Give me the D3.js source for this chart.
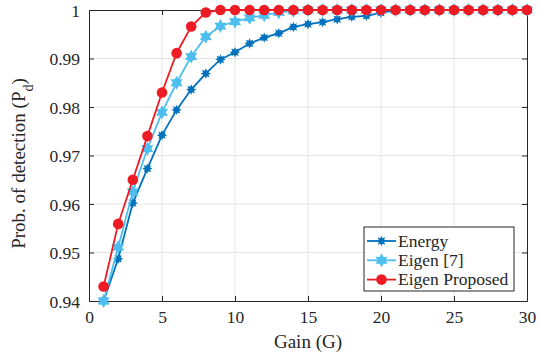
<!DOCTYPE html>
<html>
<head>
<meta charset="utf-8">
<script src="https://cdn.jsdelivr.net/npm/d3@7"></script>
<style>
  html, body { margin: 0; padding: 0; background: #fff; }
  svg { display: block; }
  svg text { font-family: "Liberation Serif", "Times New Roman", serif; }
</style>
</head>
<body>
<div id="chart"></div>
<script>
// gain values (x) and the three detection curves
const gain = [1, 2, 3, 4, 5, 6, 7, 8, 9, 10, 11, 12, 13, 14, 15, 16, 17, 18, 19, 20, 21, 22, 23, 24, 25, 26, 27, 28, 29, 30];
const energy = [0.9400, 0.9487, 0.9602, 0.9673, 0.9742, 0.9794, 0.9836, 0.9869, 0.9898, 0.9913,
  0.9931, 0.9943, 0.9952, 0.9965, 0.9971, 0.9975, 0.9981, 0.9986, 0.9988, 0.9994,
  1, 1, 1, 1, 1, 1, 1, 1, 1, 1];
const eigen7 = [0.9400, 0.9511, 0.9625, 0.9714, 0.9789, 0.9850, 0.9904, 0.9945, 0.9967, 0.9976,
  0.9984, 0.9989, 0.9995, 0.9998, 1, 1, 1, 1, 1, 1,
  1, 1, 1, 1, 1, 1, 1, 1, 1, 1];
const proposed = [0.9430, 0.9559, 0.9650, 0.9740, 0.9830, 0.9911, 0.9966, 0.9995, 1, 1,
  1, 1, 1, 1, 1, 1, 1, 1, 1, 1,
  1, 1, 1, 1, 1, 1, 1, 1, 1, 1];

const xTicks = [0, 5, 10, 15, 20, 25, 30];
const yTicks = [0.94, 0.95, 0.96, 0.97, 0.98, 0.99, 1];
const seriesNames = ["Energy", "Eigen [7]", "Eigen Proposed"];

const W = 541, H = 358;
const margin = { top: 10, right: 14, bottom: 57, left: 89 };
const iw = W - margin.left - margin.right;
const ih = H - margin.top - margin.bottom;
const axisCol = "#262626";

const svg = d3.select("#chart").append("svg").attr("width", W).attr("height", H);
const g = svg.append("g").attr("transform", `translate(${margin.left},${margin.top})`);

const x = d3.scaleLinear().domain([0, 30]).range([0, iw]);
const y = d3.scaleLinear().domain([0.94, 1]).range([ih, 0]);

// star shaped marker path (n points)
function starPath(n, ro, ri) {
  const pts = [];
  for (let i = 0; i < 2 * n; i++) {
    const a = -Math.PI / 2 + i * Math.PI / n;
    const r = i % 2 === 0 ? ro : ri;
    pts.push([r * Math.cos(a), r * Math.sin(a)]);
  }
  return "M" + pts.map((p) => p[0].toFixed(2) + "," + p[1].toFixed(2)).join("L") + "Z";
}

// grid
g.append("g").selectAll("line").data(xTicks.slice(1, -1)).join("line")
  .attr("x1", (d) => x(d)).attr("x2", (d) => x(d)).attr("y1", 0).attr("y2", ih)
  .attr("stroke", "#e3e3e3").attr("stroke-width", 1);
g.append("g").selectAll("line").data(yTicks.slice(1, -1)).join("line")
  .attr("x1", 0).attr("x2", iw).attr("y1", (d) => y(d)).attr("y2", (d) => y(d))
  .attr("stroke", "#e3e3e3").attr("stroke-width", 1);

// axes (MATLAB style: ticks inward, box on)
const fmtY = (d) => (d === 1 ? "1" : d3.format(".2f")(d));
const xAxis = g.append("g").attr("transform", `translate(0,${ih})`)
  .call(d3.axisBottom(x).tickValues(xTicks).tickSizeInner(-5).tickSizeOuter(0).tickPadding(10));
const yAxis = g.append("g")
  .call(d3.axisLeft(y).tickValues(yTicks).tickFormat(fmtY).tickSizeInner(-5).tickSizeOuter(0).tickPadding(9));
const xTop = g.append("g")
  .call(d3.axisTop(x).tickValues(xTicks).tickSizeInner(-5).tickSizeOuter(0).tickFormat(""));
const yRight = g.append("g").attr("transform", `translate(${iw},0)`)
  .call(d3.axisRight(y).tickValues(yTicks).tickSizeInner(-5).tickSizeOuter(0).tickFormat(""));
[xAxis, yAxis, xTop, yRight].forEach((a) => {
  a.attr("font-family", null).attr("font-size", null);
  a.select(".domain").attr("stroke", axisCol).attr("stroke-width", 1);
  a.selectAll(".tick line").attr("stroke", axisCol);
  a.selectAll(".tick text").attr("fill", axisCol).style("font-size", "17.5px");
});
yAxis.selectAll(".tick text").attr("dy", "0.36em");

// axis labels
g.append("text").attr("x", iw / 2).attr("y", ih + 47)
  .attr("text-anchor", "middle").attr("fill", axisCol).style("font-size", "19px")
  .text("Gain (G)");
const yl = g.append("text")
  .attr("transform", `translate(-64,${ih / 2 + 8}) rotate(-90)`)
  .attr("text-anchor", "middle").attr("fill", axisCol).style("font-size", "19px");
yl.append("tspan").text("Prob. of detection (P");
yl.append("tspan").attr("baseline-shift", "sub").style("font-size", "14px").text("d");
yl.append("tspan").text(")");

const series = [
  { name: seriesNames[0], values: energy, color: "#0072BD", marker: starPath(8, 5.2, 2.9) },
  { name: seriesNames[1], values: eigen7, color: "#4DBEEE", marker: starPath(6, 7, 3.9) },
  { name: seriesNames[2], values: proposed, color: "#ED1C24", marker: null },
];

const line = d3.line().x((d) => x(d[0])).y((d) => y(d[1]));

series.forEach((s) => {
  const pts = gain.map((gv, i) => [gv, s.values[i]]);
  g.append("path").datum(pts).attr("d", line)
    .attr("fill", "none").attr("stroke", s.color).attr("stroke-width", 1.8);
  const mk = g.append("g");
  if (s.marker) {
    mk.selectAll("path").data(pts).join("path")
      .attr("transform", (d) => `translate(${x(d[0])},${y(d[1])})`)
      .attr("d", s.marker).attr("fill", s.color);
  } else {
    mk.selectAll("circle").data(pts).join("circle")
      .attr("cx", (d) => x(d[0])).attr("cy", (d) => y(d[1])).attr("r", 5.3)
      .attr("fill", s.color);
  }
});

// legend
const lg = svg.append("g").attr("transform", "translate(364,227)");
lg.append("rect").attr("width", 150).attr("height", 64)
  .attr("fill", "#fff").attr("stroke", axisCol).attr("stroke-width", 1);
series.forEach((s, i) => {
  const cy = 14 + i * 19.3;
  const row = lg.append("g").attr("transform", `translate(0,${cy})`);
  row.append("line").attr("x1", 3).attr("x2", 32).attr("stroke", s.color).attr("stroke-width", 1.8);
  if (s.marker) {
    row.append("path").attr("transform", "translate(17.5,0)").attr("d", s.marker).attr("fill", s.color);
  } else {
    row.append("circle").attr("cx", 17.5).attr("r", 5.3).attr("fill", s.color);
  }
  row.append("text").attr("x", 34).attr("dy", "0.33em")
    .attr("fill", axisCol).style("font-size", "17.5px").text(s.name);
});
</script>
</body>
</html>
